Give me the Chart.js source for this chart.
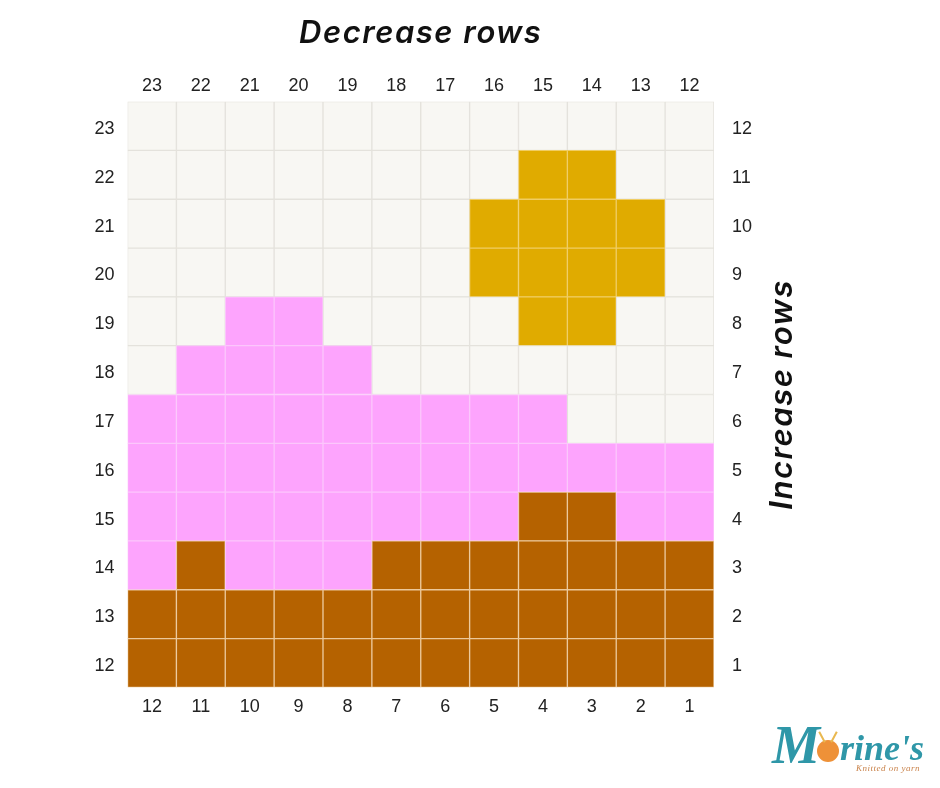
<!DOCTYPE html>
<html><head><meta charset="utf-8">
<style>
html,body{margin:0;padding:0;background:#fff;width:940px;height:788px;overflow:hidden}
#wrap{position:absolute;left:0;top:0;width:940px;height:788px}
#logo{position:absolute;left:772px;top:723px;width:160px;height:60px;color:#2f97a8;font:italic 700 36px "Liberation Serif",serif;white-space:nowrap;line-height:44px}
#logo .m{font-size:54px;line-height:44px;vertical-align:-3px}
#logo .o{display:inline-block;width:22px;height:22px;border-radius:50%;background:#ee9138;margin:0 1px 0 -3px;vertical-align:-2px;position:relative}
#logo .o:before,#logo .o:after{content:"";position:absolute;top:-9px;width:2px;height:12px;background:#e9b84f}
#logo .o:before{left:4px;transform:rotate(-28deg)}
#logo .o:after{right:4px;transform:rotate(28deg)}
#logo small{position:absolute;left:84px;top:40px;font:italic 9px "Liberation Serif",serif;color:#c9824a;letter-spacing:.5px}
</style>
</head><body>
<div id="wrap"><canvas id="c" width="940" height="788"></canvas></div>
<div id="logo"><span class="m">M</span><span class="o"></span>rine's<small>Knitted on yarn</small></div>
<script src="https://cdn.jsdelivr.net/npm/chart.js@4"></script>
<script>
const topLabels = ['23','22','21','20','19','18','17','16','15','14','13','12'];
const bottomLabels = ['12','11','10','9','8','7','6','5','4','3','2','1'];
const leftLabels = ['23','22','21','20','19','18','17','16','15','14','13','12'];
const rightLabels = ['12','11','10','9','8','7','6','5','4','3','2','1'];
const palette = {W:'#f8f7f3',G:'#e0ab00',P:'#fda4fd',B:'#b56200'};
const lines = {W:'#e4e2dc',G:'#f0cd63',P:'#fcc6fc',B:'#ecc89a'};
const row23 = 'WWWWWWWWWWWW';
const row22 = 'WWWWWWWWGGWW';
const row21 = 'WWWWWWWGGGGW';
const row20 = 'WWWWWWWGGGGW';
const row19 = 'WWPPWWWWGGWW';
const row18 = 'WPPPPWWWWWWW';
const row17 = 'PPPPPPPPPWWW';
const row16 = 'PPPPPPPPPPPP';
const row15 = 'PPPPPPPPBBPP';
const row14 = 'PBPPPBBBBBBB';
const row13 = 'BBBBBBBBBBBB';
const row12 = 'BBBBBBBBBBBB';
const rows = [row12,row13,row14,row15,row16,row17,row18,row19,row20,row21,row22,row23];
const tickFont = {family:'"Liberation Sans"',size:18};
const tickColor = '#222';
const noGrid = {display:false,drawTicks:false};
const topTitle = 'Decrease rows';
const rightTitle = 'Increase rows';
const titlePlugin = {
  id:'titles',
  afterDraw(chart){
    const {ctx,chartArea}=chart;
    ctx.save();
    ctx.font='italic 600 31px Inter';
    ctx.letterSpacing='1.5px';
    ctx.fillStyle='#111';
    ctx.textAlign='center';
    ctx.textBaseline='middle';
    ctx.fillText(topTitle,(chartArea.left+chartArea.right)/2,chartArea.top-68);
    ctx.translate(chartArea.right+69,(chartArea.top+chartArea.bottom)/2);
    ctx.rotate(-Math.PI/2);
    ctx.fillText(rightTitle,0,0);
    ctx.restore();
  }
};
new Chart(document.getElementById('c'),{
  type:'bar',
  data:{
    labels:bottomLabels,
    datasets:rows.map(r=>({
      data:bottomLabels.map(()=>1),
      backgroundColor:[...r].map(k=>palette[k]),
      borderColor:[...r].map(k=>lines[k]),
      borderWidth:1,
      borderSkipped:false,
      barPercentage:1,
      categoryPercentage:1,
      yAxisID:'yv',
      xAxisID:'x'
    }))
  },
  options:{
    responsive:false,animation:false,
    layout:{padding:{left:81.5,right:170,top:70,bottom:61}},
    plugins:{legend:{display:false},tooltip:{enabled:false},title:{display:false}},
    scales:{
      x:{type:'category',position:'bottom',stacked:true,labels:bottomLabels,grid:noGrid,border:{display:false},
        ticks:{font:tickFont,color:tickColor,padding:9,maxRotation:0,autoSkip:false}},
      xTop:{type:'category',position:'top',labels:topLabels,offset:true,grid:noGrid,border:{display:false},
        ticks:{font:tickFont,color:tickColor,padding:5,maxRotation:0,autoSkip:false}},
      yv:{type:'linear',stacked:true,min:0,max:12,display:false},
      yLeft:{type:'category',position:'left',labels:leftLabels,offset:true,grid:noGrid,border:{display:false},
        ticks:{font:tickFont,color:tickColor,padding:13,labelOffset:3,autoSkip:false}},
      yRight:{type:'category',position:'right',labels:rightLabels,offset:true,grid:noGrid,border:{display:false},
        ticks:{font:tickFont,color:tickColor,padding:18,labelOffset:3,autoSkip:false}}
    }
  },
  plugins:[titlePlugin]
});
</script>
</body></html>
